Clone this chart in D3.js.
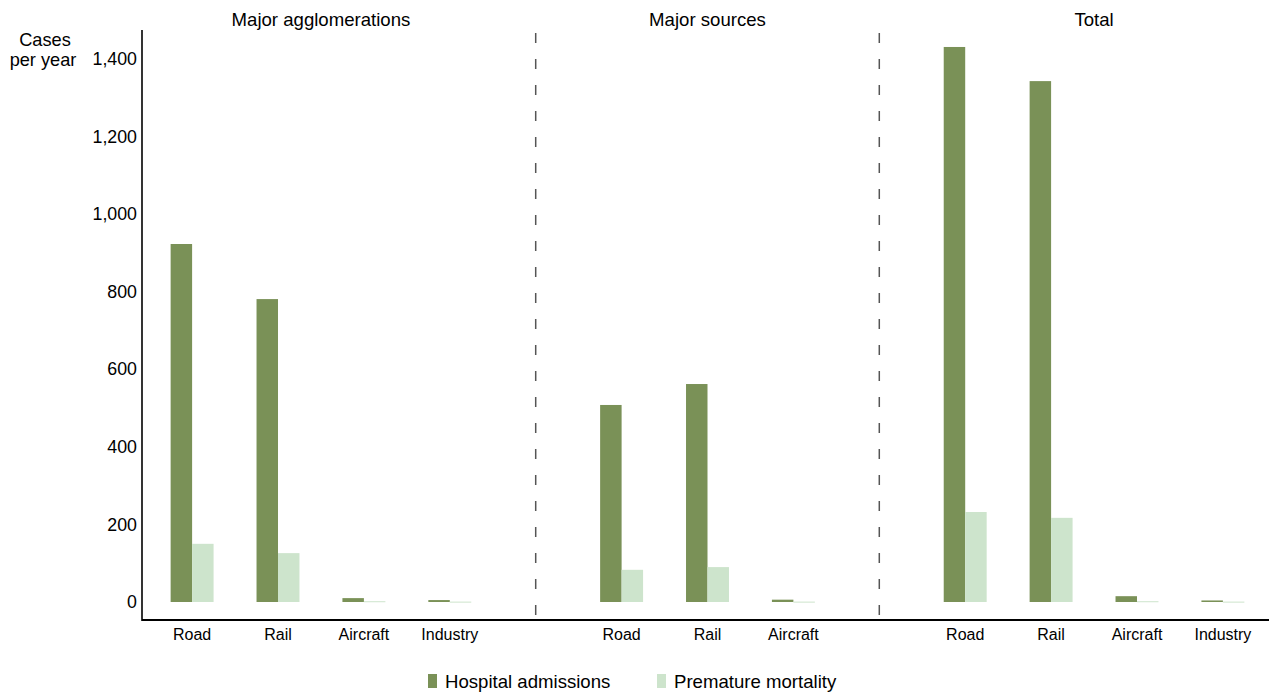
<!DOCTYPE html>
<html>
<head>
<meta charset="utf-8">
<script src="https://cdn.jsdelivr.net/npm/d3@7"></script>
<style>
html,body{margin:0;padding:0;background:#fff;}
svg{display:block;font-family:"Liberation Sans",Arial,sans-serif;}
</style>
</head>
<body>
<svg id="chart" width="1269" height="693"></svg>
<script>
// ---- data ----
const panels = ["Major agglomerations", "Major sources", "Total"];
const panelCategories = [
  ["Road", "Rail", "Aircraft", "Industry"],
  ["Road", "Rail", "Aircraft"],
  ["Road", "Rail", "Aircraft", "Industry"]
];
const seriesNames = ["Hospital admissions", "Premature mortality"];
const hospitalAdmissions = [
  [923, 781, 10, 5],
  [508, 562, 6],
  [1431, 1343, 15, 4]
];
const prematureMortality = [
  [150, 126, 2, 1],
  [83, 90, 1],
  [232, 217, 2, 1]
];
const yTicks = [0, 200, 400, 600, 800, 1000, 1200, 1400];
const colors = ["#7a9157", "#cde4cc"];

(function () {
// ---- layout ----
const svg = d3.select("#chart");
const mLeft = 142, mRight = 1269, mTop = 30, baseline = 620;

// build slot keys: panel categories plus one divider slot between panels
const slots = [];
panelCategories.forEach((cats, pi) => {
  cats.forEach(c => slots.push({key: pi + "|" + c, panel: pi, cat: c}));
  if (pi === 0) slots.push({key: "div0", divider: true});
  if (pi === 1) slots.push({key: "div1", divider: true});
});

const x = d3.scaleBand().domain(slots.map(s => s.key)).range([mLeft + 2, mRight + 2]).paddingInner(0).paddingOuter(0.06);
const x1 = d3.scaleBand().domain(seriesNames).range([0, x.bandwidth() / 2]);
const y = d3.scaleLinear().domain([0, 1400]).range([602, 59]);

const cx = k => x(k) + x.bandwidth() / 2;

// bars
const barData = [];
panelCategories.forEach((cats, pi) => {
  cats.forEach((c, ci) => {
    barData.push({key: pi + "|" + c, s: seriesNames[0], v: hospitalAdmissions[pi][ci], col: colors[0]});
    barData.push({key: pi + "|" + c, s: seriesNames[1], v: prematureMortality[pi][ci], col: colors[1]});
  });
});
svg.append("g").selectAll("rect").data(barData).join("rect")
  .attr("x", d => cx(d.key) - x.bandwidth() / 4 + x1(d.s))
  .attr("width", x1.bandwidth())
  .attr("y", d => y(d.v))
  .attr("height", d => Math.max(1, y(0) - y(d.v)))
  .attr("fill", d => d.col);

// dividers
slots.filter(s => s.divider).forEach(s => {
  svg.append("line")
    .attr("x1", cx(s.key)).attr("x2", cx(s.key))
    .attr("y1", 33).attr("y2", baseline)
    .attr("stroke", "#555").attr("stroke-width", 1.5)
    .attr("stroke-dasharray", "10,16");
});

// y axis
const yAxis = d3.axisLeft(y).tickValues(yTicks).tickSize(0).tickPadding(4).tickFormat(d3.format(","));
const yg = svg.append("g").attr("transform", `translate(${mLeft - 1},0)`).call(yAxis);
yg.select(".domain").remove();
yg.selectAll("text").attr("font-size", 17.8).attr("fill", "#000").attr("font-family", "Liberation Sans, Arial, sans-serif");
svg.append("line").attr("x1", mLeft).attr("x2", mLeft).attr("y1", mTop).attr("y2", baseline + 1)
  .attr("stroke", "#000").attr("stroke-width", 1.6);

// x axis
svg.append("line").attr("x1", mLeft).attr("x2", mRight).attr("y1", baseline).attr("y2", baseline)
  .attr("stroke", "#000").attr("stroke-width", 1.8);
const xAxis = d3.axisBottom(x).tickSize(0).tickPadding(9)
  .tickFormat(k => { const s = slots.find(t => t.key === k); return s.divider ? "" : s.cat; });
const xg = svg.append("g").attr("transform", `translate(0,${baseline})`).call(xAxis);
xg.select(".domain").remove();
xg.selectAll("text").attr("font-size", 16).attr("fill", "#000").attr("font-family", "Liberation Sans, Arial, sans-serif");

// panel titles
panels.forEach((p, pi) => {
  const keys = panelCategories[pi].map(c => pi + "|" + c);
  const c0 = cx(keys[0]), c1 = cx(keys[keys.length - 1]);
  svg.append("text").attr("x", (c0 + c1) / 2).attr("y", 26)
    .attr("text-anchor", "middle").attr("font-size", 18.6).attr("fill", "#000").text(p);
});

// y label
svg.append("text").attr("x", 45).attr("y", 46).attr("text-anchor", "middle").attr("font-size", 18.2).text("Cases");
svg.append("text").attr("x", 43).attr("y", 66).attr("text-anchor", "middle").attr("font-size", 18.2).text("per year");

// legend
const legendX = [428, 657];
seriesNames.forEach((s, i) => {
  svg.append("rect").attr("x", legendX[i]).attr("y", 674).attr("width", 9).attr("height", 14).attr("fill", colors[i]);
  svg.append("text").attr("x", legendX[i] + 17).attr("y", 688).attr("font-size", 18.6).attr("fill", "#000").text(s);
});
})();
</script>
</body>
</html>
